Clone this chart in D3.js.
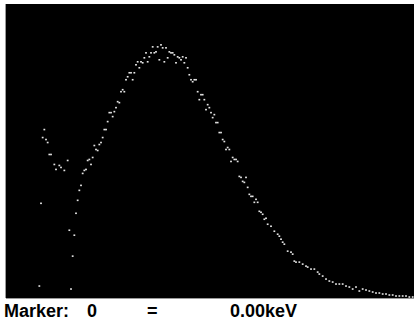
<!DOCTYPE html>
<html>
<head>
<meta charset="UTF-8">
<style>
  body { margin: 0; background: #fff; }
  svg { display: block; }
  .lbl { font-family: "Liberation Sans", Arial, sans-serif; font-weight: bold; font-size: 18px; fill: #000; }
</style>
</head>
<body>
<svg id="chart" width="414" height="326"></svg>
<script src="https://d3js.org/d3.v7.min.js"></script>
<script>
// spectrum channels and counts
const channels = [20,21,22,23,24,25,26,27,29,30,32,33,35,37,38,39,40,41,42,43,44,45,46,47,48,49,50,51,52,53,54,55,56,57,58,59,60,61,62,63,64,65,66,67,68,69,70,71,72,73,74,75,76,77,78,79,80,81,82,83,84,85,86,87,88,89,90,91,92,93,94,95,96,97,98,99,100,101,102,103,104,105,106,107,108,109,110,111,112,113,114,115,116,117,118,119,120,121,122,123,124,125,126,127,128,129,130,131,132,133,134,135,136,137,138,139,140,141,142,143,144,145,146,147,148,149,150,151,152,153,154,155,156,157,159,161,163,164,165,166,167,169,171,172,173,174,176,178,180,181,183,185,187,188,190,192,194,196,198,200,202,204,206,208,210,212,214,216,218,220,222,224,226,228,230,232,234,236,238,240,242,244];
const counts = [11,94,160,168,158,155,143,143,133,128,132,130,127,137,67,8,41,62,84,97,107,112,124,127,128,137,138,133,140,152,148,147,153,155,160,168,168,176,185,185,181,186,190,196,195,206,208,206,218,221,225,225,218,225,233,236,230,236,235,240,245,236,241,245,251,245,246,251,238,253,250,236,250,240,246,245,245,243,235,241,240,238,241,235,240,230,223,218,216,218,218,206,198,203,203,198,188,193,190,185,180,183,175,175,165,165,158,156,148,150,148,136,140,138,138,136,121,120,116,115,120,110,103,101,101,95,98,95,86,85,83,78,79,73,71,66,63,61,58,55,53,46,45,43,36,35,35,33,31,30,28,28,25,23,21,18,16,15,13,13,13,11,10,8,10,6,8,7,6,5,4,4,3,3,2,2,1,1,1,1,0,0];

const markerLabel = "Marker:";
const markerChannel = "0";
const markerEnergy = "0.00keV";

const svg = d3.select("#chart");

// plot area
const plot = { x0: 6, x1: 414, y0: 4, y1: 298 };

svg.append("rect")
    .attr("x", plot.x0).attr("y", plot.y0)
    .attr("width", plot.x1 - plot.x0).attr("height", plot.y1 - plot.y0)
    .attr("fill", "#000");
svg.append("line")
    .attr("x1", plot.x0 - 0.5).attr("x2", plot.x0 - 0.5)
    .attr("y1", plot.y0).attr("y2", plot.y1)
    .attr("stroke", "#9a9a9a").attr("stroke-width", 1);
svg.append("line")
    .attr("x1", plot.x0).attr("x2", plot.x1)
    .attr("y1", plot.y1 + 0.5).attr("y2", plot.y1 + 0.5)
    .attr("stroke", "#9a9a9a").attr("stroke-width", 1);

const x = d3.scaleLinear().domain([0, 245]).range([plot.x0, plot.x0 + 245 * 1.6667]);
const y = d3.scaleLinear().domain([0, 294]).range([plot.y1 - 1, plot.y0]);

const pts = channels.map((c, i) => ({ c: c, v: counts[i] }));

svg.append("g")
    .selectAll("rect")
    .data(pts)
    .join("rect")
    .attr("x", d => x(d.c) - 0.9)
    .attr("y", d => y(d.v) - 0.8)
    .attr("width", 1.8)
    .attr("height", 1.6)
    .attr("fill", "#e4e4e4");

// marker readout
svg.append("text").attr("class", "lbl").attr("x", 4).attr("y", 317).text(markerLabel);
svg.append("text").attr("class", "lbl").attr("x", 87).attr("y", 317).text(markerChannel);
svg.append("text").attr("class", "lbl").attr("x", 147).attr("y", 317).text("=");
svg.append("text").attr("class", "lbl").attr("x", 230).attr("y", 317).text(markerEnergy);
</script>
</body>
</html>
